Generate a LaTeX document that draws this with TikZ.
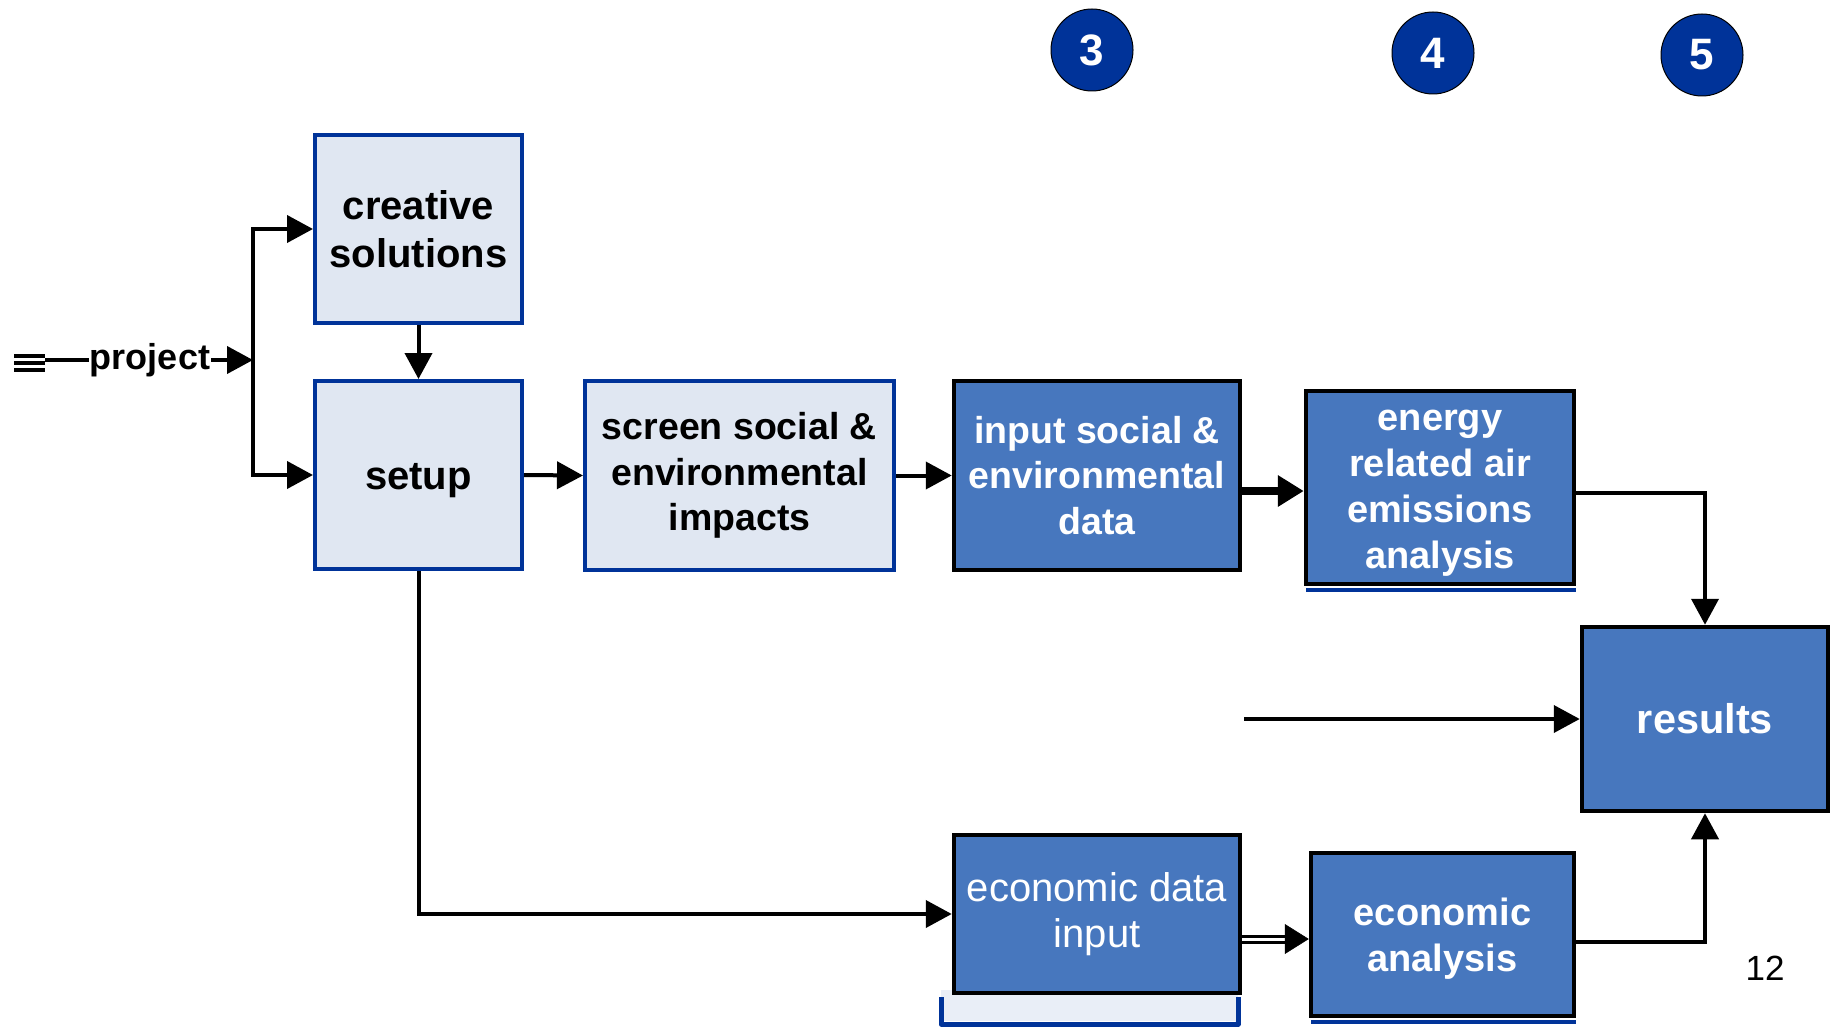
\documentclass[tikz,border=0pt]{standalone}
\usepackage{fontspec}
\setmainfont{Liberation Sans}
\usetikzlibrary{arrows.meta,calc}
\definecolor{lightfill}{HTML}{E0E7F2}
\definecolor{backfill}{HTML}{E9EEF7}
\definecolor{navy}{HTML}{003399}
\definecolor{midblue}{HTML}{4777BE}
\begin{document}
\begin{tikzpicture}[x=1pt,y=-1pt,
  lightbox/.style={draw=navy, line width=4pt, fill=lightfill, align=center, inner sep=0pt, font=\fontsize{40}{48}\selectfont\bfseries},
  darkbox/.style={draw=black, line width=4.5pt, fill=midblue, text=white, align=center, inner sep=0pt, font=\fontsize{38}{46}\selectfont\bfseries},
  arr/.style={line width=4pt, -{Triangle[length=26pt,width=27pt]}},
  badge/.style={circle, fill=navy, draw=black, line width=1pt, minimum size=82pt, text=white, font=\fontsize{44}{44}\selectfont\bfseries, inner sep=0pt}
]
\fill[white] (0,0) rectangle (1839,1030);
\useasboundingbox (0,0) rectangle (1839,1030);

% shapes partly hidden behind boxes
\fill[backfill] (941,990) rectangle (1238,1024);
\draw[navy, line width=5pt, line join=round] (941,997) -- (941,1024) -- (1238,1024) -- (1238,997);
\draw[white, line width=1.2pt] (944,1021.5) -- (1235,1021.5);
\draw[navy, line width=4pt] (1306,590) -- (1576,590);
\draw[navy, line width=4pt] (1311,1022) -- (1576,1022);

% badges
\node[badge] (b3) at (1092,50) {3};
\node[badge] (b4) at (1433,53) {4};
\node[badge] (b5) at (1702,55) {5};

% boxes
\node[lightbox, minimum width=207pt, minimum height=188pt] (creative) at (418.5,229) {creative\\solutions};
\node[lightbox, minimum width=207pt, minimum height=188pt] (setup) at (418.5,475) {\rule{0pt}{37pt}setup};
\node[lightbox, font=\fontsize{37.5}{45.5}\selectfont\bfseries, minimum width=309pt, minimum height=189pt] (screen) at (739.5,475.5) {screen social \&\\environmental\\impacts};
\node[darkbox, font=\fontsize{37.5}{45.5}\selectfont\bfseries, minimum width=286pt, minimum height=189pt] (input) at (1097,475.5) {input social \&\\environmental\\data};
\node[darkbox, minimum width=268pt, minimum height=193pt] (energy) at (1440,487.5) {\rule{0pt}{32pt}energy\\related air\\emissions\\analysis};
\node[darkbox, font=\fontsize{41.5}{46}\selectfont\bfseries, minimum width=246pt, minimum height=184pt] (results) at (1705,719) {results};
\node[darkbox, font=\fontsize{40}{45.5}\selectfont, minimum width=286pt, minimum height=158pt] (ED) at (1097,914) {economic data\\input};
\node[darkbox, minimum width=263pt, minimum height=163pt] (EA) at (1442.5,934.5) {\rule{0pt}{35pt}economic\\analysis};

\node[font=\fontsize{35}{35}\selectfont, inner sep=0pt] (pg) at (1765,968) {12};

% project input
\draw[line width=4pt] (14,356) -- (45,356);
\draw[line width=4pt] (14,363) -- (45,363);
\draw[line width=4pt] (14,370) -- (45,370);
\coordinate (pstart) at (45,360);
\node[font=\fontsize{36}{36}\selectfont\bfseries, inner sep=1pt] (proj) at (150,360) {project};
\coordinate (jm) at (253,360);
\draw[line width=4pt] (pstart) -- (proj.west);
\draw[arr] (proj.east) -- (jm);
\draw[line width=4pt, line cap=rect] (creative.west -| jm) -- (setup.west -| jm);
\draw[arr] (creative.west -| jm) -- (creative.west);
\draw[arr] (setup.west -| jm) -- (setup.west);

% connectors
\draw[arr] (creative.south) -- (setup.north);
\draw[arr] (setup.east) -- (screen.west);
\draw[arr] (screen.east) -- (input.west);
\draw[line width=7.5pt, -{Triangle[length=26pt,width=30pt]}] (input.east |- 0,491) -- (energy.west |- 0,491);
\draw[arr] (energy.east |- 0,493) -| (results.north);
\coordinate (free) at (1244,719);
\draw[arr] (free) -- (results.west);
\draw[arr] (setup.south) |- (ED.west);
\draw[line width=3pt, double=white, double distance=3pt, shorten >=22pt] (ED.east |- 0,939) -- (EA.west |- 0,939);
\draw[line width=0.5pt, -{Triangle[length=24pt,width=30pt]}] ($(EA.west |- 0,939)+(-24,0)$) -- (EA.west |- 0,939);
\draw[arr] (EA.east |- 0,942) -| (results.south);
\end{tikzpicture}
\end{document}
